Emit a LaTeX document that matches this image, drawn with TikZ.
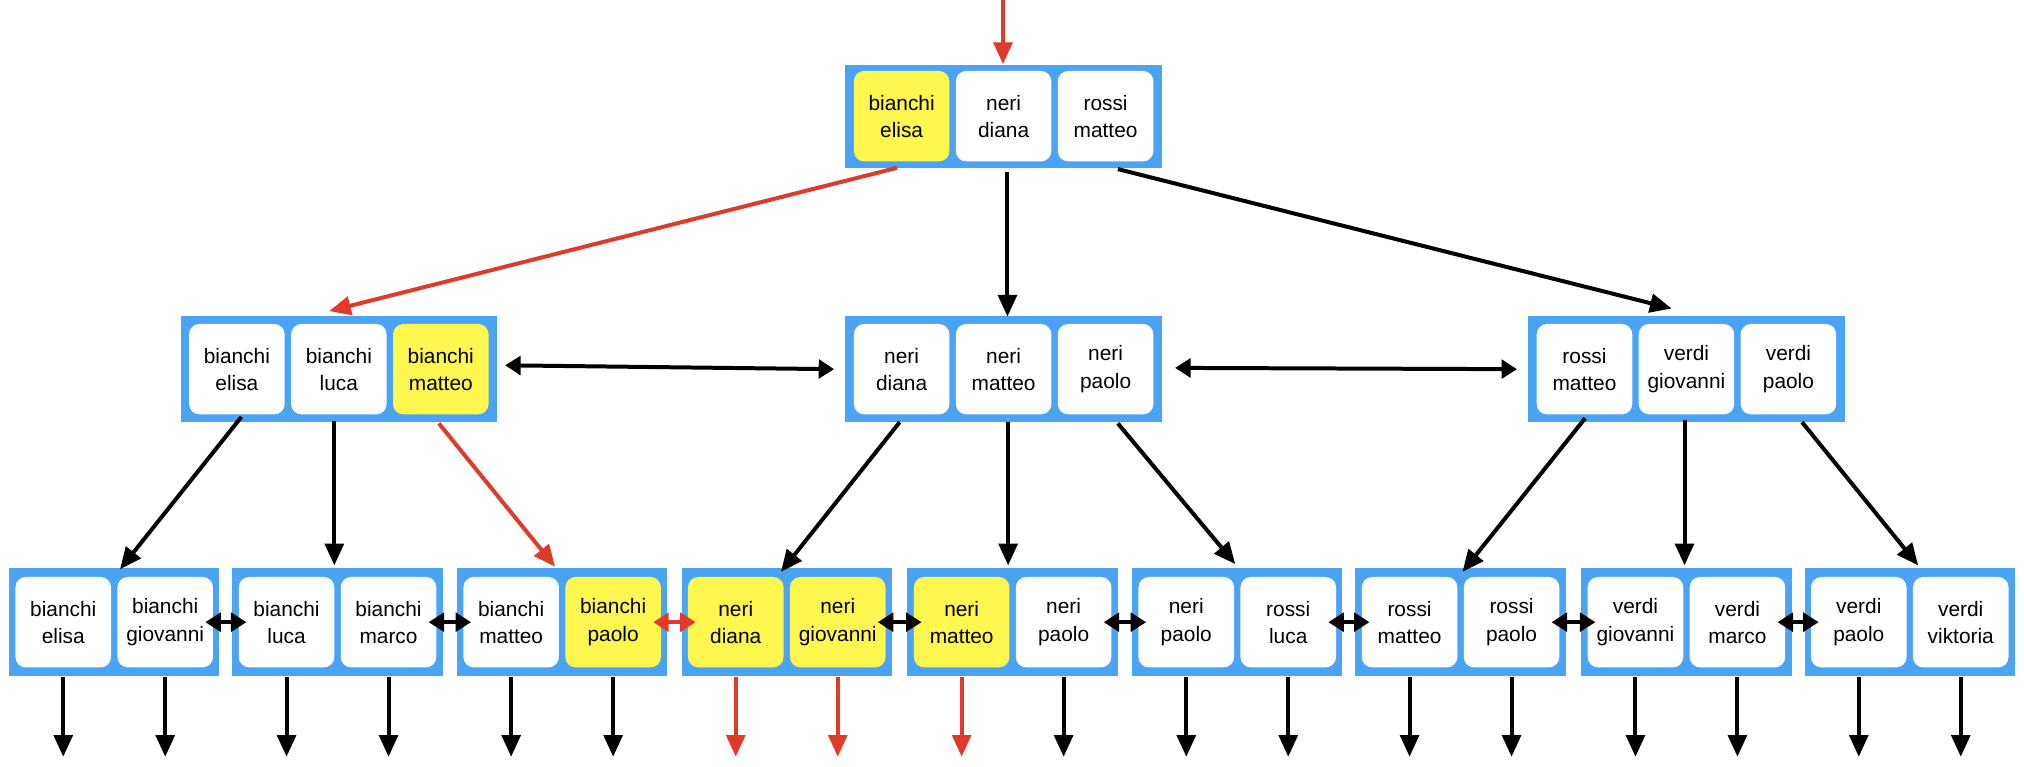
\documentclass[tikz,border=0pt]{standalone}
\usepackage{fontspec}
\setmainfont{Liberation Sans}
\usetikzlibrary{arrows.meta}
\definecolor{boxblue}{HTML}{4BA3F5}
\definecolor{keyyellow}{HTML}{FFF650}
\definecolor{pathred}{HTML}{E03A2A}
\tikzset{
  box/.style={fill=boxblue, inner sep=0pt},
  cell/.style={fill=white, rounded corners=0.2cm, minimum width=1.85cm, minimum height=1.75cm,
    inner sep=0pt, align=center, font=\fontsize{11.5}{15}\selectfont},
  hit/.style={cell, fill=keyyellow},
  link/.style={line width=2.2pt, -{Triangle[length=0.42cm,width=0.36cm]}},
  twin/.style={line width=2.2pt, {Triangle[length=0.3cm,width=0.36cm]}-{Triangle[length=0.3cm,width=0.36cm]}},
}
\begin{document}
\begin{tikzpicture}[x=0.025cm,y=-0.025cm]
        \useasboundingbox (0,0) rectangle (1568,594);

        % radice
        \node[box, minimum width=6.125cm, minimum height=2cm] (root) at (777.5,90) {};
        \node[hit]  (r1) at (698.5,90) {bianchi\\elisa};
        \node[cell] (r2) at (777.5,90) {neri\\diana};
        \node[cell] (r3) at (856.5,90) {rossi\\matteo};

        % livello intermedio
        \foreach \n/\x in {la/262.5, lb/777.5, lc/1306.5}
            \node[box, minimum width=6.125cm, minimum height=2.05cm] (\n) at (\x,286) {};
        \node[cell] (la1) at (183.5,286) {bianchi\\elisa};
        \node[cell] (la2) at (262.5,286) {bianchi\\luca};
        \node[hit]  (la3) at (341.5,286) {bianchi\\matteo};
        \node[cell] (lb1) at (698.5,286) {neri\\diana};
        \node[cell] (lb2) at (777.5,286) {neri\\matteo};
        \node[cell] (lb3) at (856.5,286) {neri\\paolo};
        \node[cell] (lc1) at (1227.5,286) {rossi\\matteo};
        \node[cell] (lc2) at (1306.5,286) {verdi\\giovanni};
        \node[cell] (lc3) at (1385.5,286) {verdi\\paolo};

        % foglie
        \foreach \i/\x/\a/\sa/\b/\sb in {
            1/88.5/bianchi\\elisa/cell/bianchi\\giovanni/cell,
            2/261.5/bianchi\\luca/cell/bianchi\\marco/cell,
            3/435.5/bianchi\\matteo/cell/bianchi\\paolo/hit,
            4/609.5/neri\\diana/hit/neri\\giovanni/hit,
            5/784.5/neri\\matteo/hit/neri\\paolo/cell,
            6/958.5/neri\\paolo/cell/rossi\\luca/cell,
            7/1131.5/rossi\\matteo/cell/rossi\\paolo/cell,
            8/1306.5/verdi\\giovanni/cell/verdi\\marco/cell,
            9/1479.5/verdi\\paolo/cell/verdi\\viktoria/cell}{
            \node[box, minimum width=4.075cm, minimum height=2.1cm] (f\i) at (\x,482) {};
            \node[\sa] (f\i a) at (\x-39.5,482) {\a};
            \node[\sb] (f\i b) at (\x+39.5,482) {\b};
        }

        % frecce dalla radice
        \coordinate (in) at (777,0);
        \draw[link, pathred] (in) -- (root.north -| in);
        \draw[link, pathred] (695,130) -- (255,241);
        \draw[link] (lb.north |- root.south) ++(3,3) -- ++(0,112);
        \draw[link] (866,131) -- (1295,239);

        % collegamenti orizzontali
        \draw[twin] (la.east) ++(6,-3) -- ([xshift=-6]lb.west);
        \draw[twin] (lb.east) ++(10,-1) -- ([xshift=-6]lc.west);

        % frecce verso le foglie
        \draw[link] (187,323) -- (93,441);
        \draw[link] (259,326) -- (259,438);
        \draw[link, pathred] (340,328) -- (430,439);
        \draw[link] (697,327) -- (605,443);
        \draw[link] (781,327) -- (781,438);
        \draw[link] (866,328) -- (957,437);
        \draw[link] (1228,324) -- (1133,443);
        \draw[link] (1305,325) -- (1305,438);
        \draw[link] (1396,327) -- (1486,438);

        \foreach \i/\j in {1/2,2/3,4/5,5/6,6/7,7/8,8/9}
            \draw[twin] ([xshift=-8]f\i.east) -- ([xshift=8]f\j.west);
        \draw[twin, pathred] ([xshift=-8]f3.east) -- ([xshift=8]f4.west);

        % puntatori in uscita
        \foreach \i in {1,2,3,6,7,8,9}{
            \draw[link] (f\i a.south |- f\i.south) -- ++(0,62);
            \draw[link] (f\i b.south |- f\i.south) -- ++(0,62);
        }
        \draw[link, pathred] (f4a.south |- f4.south) -- ++(0,62);
        \draw[link, pathred] (f4b.south |- f4.south) -- ++(0,62);
        \draw[link, pathred] (f5a.south |- f5.south) -- ++(0,62);
        \draw[link] (f5b.south |- f5.south) -- ++(0,62);
\end{tikzpicture}
\end{document}
